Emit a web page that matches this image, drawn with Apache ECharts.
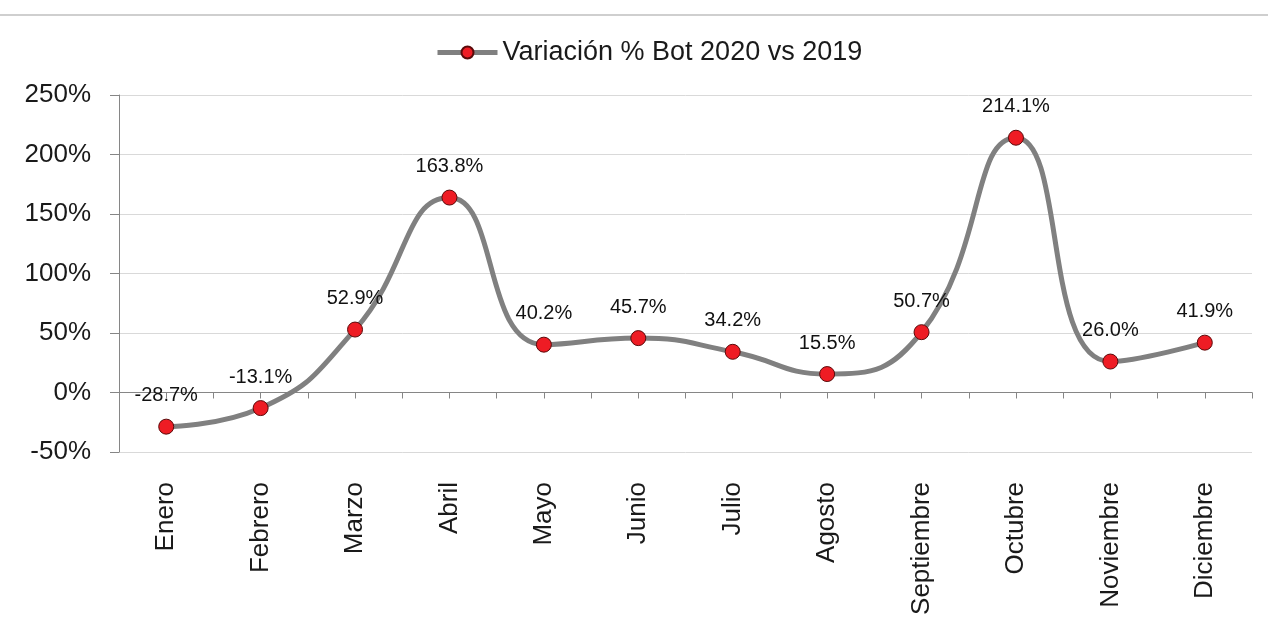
<!DOCTYPE html>
<html>
<head>
<meta charset="utf-8">
<script src="https://cdn.jsdelivr.net/npm/echarts@6/dist/echarts.min.js"></script>
<style>
    html, body { margin: 0; padding: 0; background: #fff; }
    #chart { width: 1268px; height: 639px; }
</style>
</head>
<body>
<div id="chart"></div>
<script>
// Data
var seriesName = 'Variación % Bot 2020 vs 2019';
var months = ['Enero', 'Febrero', 'Marzo', 'Abril', 'Mayo', 'Junio', 'Julio',
    'Agosto', 'Septiembre', 'Octubre', 'Noviembre', 'Diciembre'];
var variation = [-28.7, -13.1, 52.9, 163.8, 40.2, 45.7, 34.2, 15.5, 50.7, 214.1, 26.0, 41.9];
var yTicks = { min: -50, max: 250, step: 50 };

var fontFamily = '"Liberation Sans", Arial, sans-serif';
var axisGray = '#868686';

var chart = echarts.init(document.getElementById('chart'), null, { renderer: 'canvas' });

var options = {
    animation: false,
    backgroundColor: '#ffffff',
    textStyle: { fontFamily: fontFamily },

    // Thin rule across the top of the picture
    graphic: [{
        type: 'rect',
        left: 0,
        top: 14,
        shape: { width: 1268, height: 2 },
        style: { fill: '#cfcfcf' },
        silent: true
    }],

    legend: {
        top: 34,
        left: 430,
        itemWidth: 60,
        itemHeight: 15,
        itemGap: 10,
        lineStyle: { width: 5, color: '#808080' },
        textStyle: { fontSize: 27, color: '#1a1a1a', fontFamily: fontFamily },
        data: [seriesName]
    },

    grid: {
        left: 119,
        right: 16,
        top: 95,
        bottom: 187,
        outerBoundsMode: 'none',
        containLabel: false
    },

    xAxis: [
        {
            type: 'category',
            data: months,
            boundaryGap: true,
            position: 'bottom',
            axisLine: { onZero: true, lineStyle: { color: axisGray, width: 1 } },
            axisTick: { show: true, inside: false, length: 6, lineStyle: { color: axisGray } },
            axisLabel: {
                interval: 0,
                rotate: 90,
                margin: 30,
                fontSize: 26,
                color: '#1a1a1a',
                fontFamily: fontFamily
            },
            splitLine: { show: false }
        },
        {
            // second copy only for the tick marks at each month's centre
            type: 'category',
            data: months,
            boundaryGap: true,
            position: 'bottom',
            axisLine: { show: false, onZero: true, onZeroAxisIndex: 0 },
            axisTick: { show: true, alignWithLabel: true, length: 6, lineStyle: { color: axisGray } },
            axisLabel: { show: false },
            splitLine: { show: false }
        }
    ],

    yAxis: {
        type: 'value',
        min: yTicks.min,
        max: yTicks.max,
        interval: yTicks.step,
        axisLine: { show: true, lineStyle: { color: axisGray, width: 1 } },
        axisTick: { show: true, length: 9, lineStyle: { color: axisGray } },
        axisLabel: {
            formatter: '{value}%',
            margin: 28,
            fontSize: 26,
            color: '#1a1a1a',
            fontFamily: fontFamily
        },
        splitLine: { show: true, lineStyle: { color: '#d9d9d9', width: 1 } }
    },

    series: [{
        name: seriesName,
        type: 'line',
        xAxisIndex: 0,
        data: variation,
        smooth: 0.5,
        symbol: 'circle',
        symbolSize: 15,
        lineStyle: { color: '#808080', width: 5 },
        itemStyle: { color: '#ee1c24', borderColor: '#5a0a0a', borderWidth: 1 },
        label: {
            show: true,
            position: 'top',
            distance: 13,
            fontSize: 20,
            color: '#111111',
            fontFamily: fontFamily,
            formatter: function (p) { return p.value.toFixed(1) + '%'; }
        },
        z: 3
    }]
};

chart.setOption(options);
</script>
</body>
</html>
